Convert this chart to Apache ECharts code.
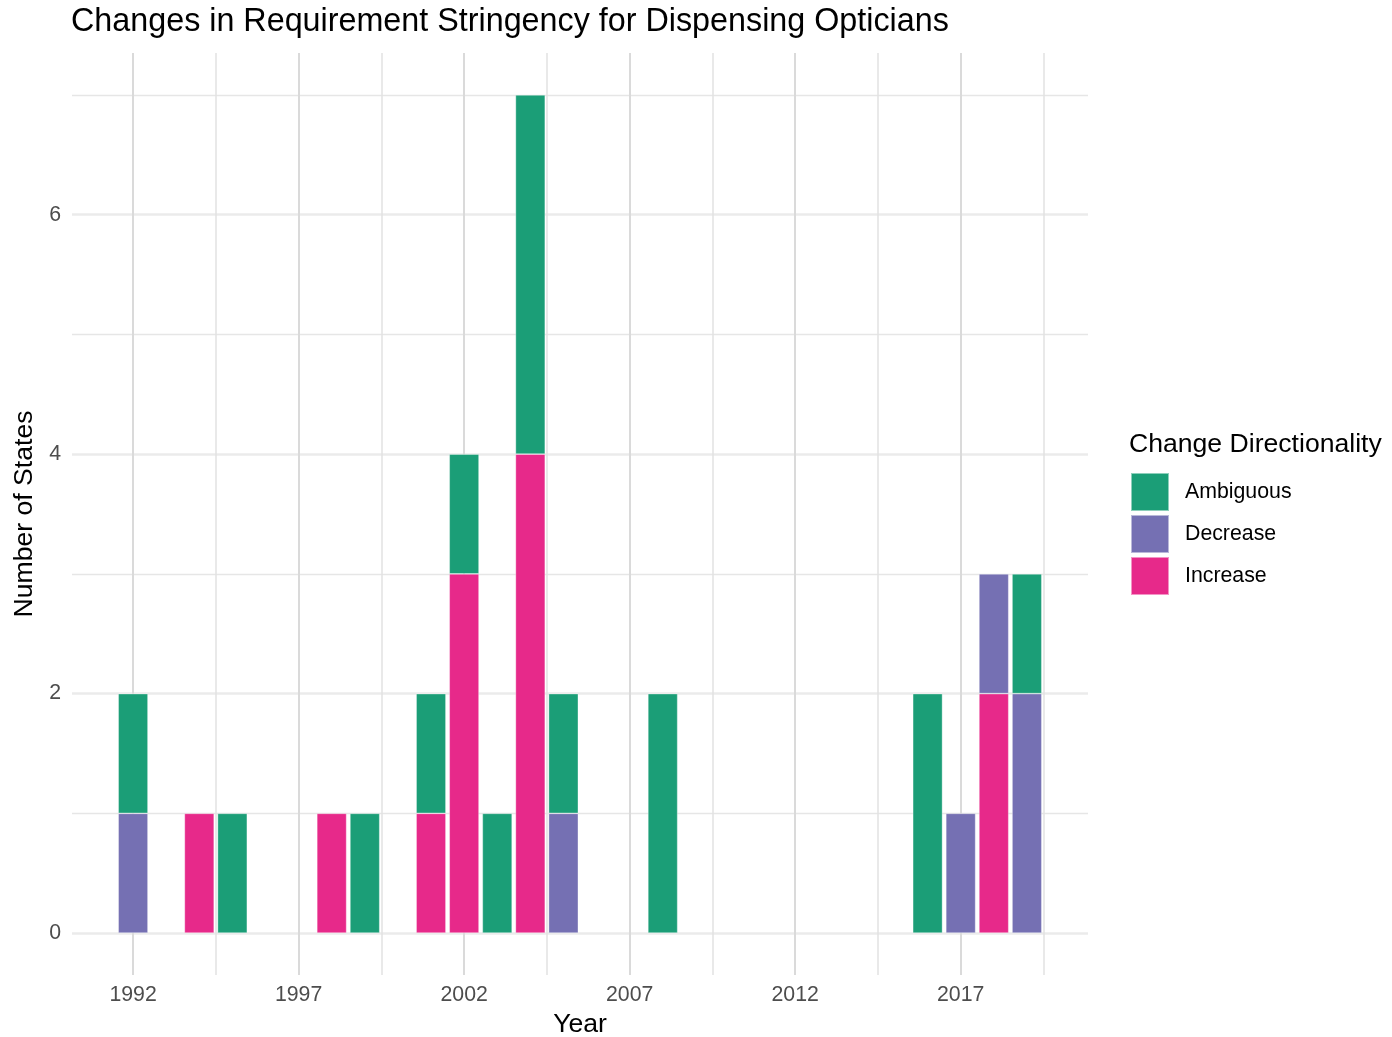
<!DOCTYPE html>
<html><head><meta charset="utf-8">
<script src="https://cdn.jsdelivr.net/npm/echarts@6/dist/echarts.min.js"></script>
<style>html,body{margin:0;padding:0;background:#fff}#c{width:1392px;height:1037px}</style>
</head><body><div id="c"></div>
<script>
const years     = [1992, 1994, 1995, 1998, 1999, 2001, 2002, 2003, 2004, 2005, 2008, 2016, 2017, 2018, 2019];
const increase  = [0,    1,    0,    1,    0,    1,    3,    0,    4,    0,    0,    0,    0,    2,    0];
const decrease  = [1,    0,    0,    0,    0,    0,    0,    0,    0,    1,    0,    0,    1,    1,    2];
const ambiguous = [1,    0,    1,    0,    1,    1,    1,    1,    3,    1,    2,    2,    0,    0,    1];
const xMajorTicks = [1992, 1997, 2002, 2007, 2012, 2017];
const xMinorTicks = [1994.5, 1999.5, 2004.5, 2009.5, 2014.5, 2019.5];
const yMajorTicks = [0, 2, 4, 6];
const yMinorTicks = [1, 3, 5, 7];

const FONT = 'Liberation Sans';
const X_MIN = 1990.155, X_MAX = 2020.845, Y_MIN = -0.35, Y_MAX = 7.35;
const GRID = {left: 72, right: 304, top: 53, bottom: 62, outerBoundsMode: 'none', containLabel: false};
const plotW = 1392 - GRID.left - GRID.right;
const barW = 0.9 * plotW / (X_MAX - X_MIN);

function rows(vals) {
  return years.map((y, i) => [vals[i] === 0 ? '-' : vals[i], y]);
}
function barSeries(name, vals, color) {
  return {
    name, type: 'bar', stack: 'total', data: rows(vals),
    encode: {x: 1, y: 0}, xAxisIndex: 0, yAxisIndex: 0,
    barWidth: barW,
    itemStyle: {color, borderColor: 'rgba(255,255,255,0.5)', borderWidth: 0.7},
    emphasis: {disabled: true}
  };
}

const chart = echarts.init(document.getElementById('c'), null, {renderer: 'canvas'});
chart.setOption({
  animation: false,
  backgroundColor: '#ffffff',
  textStyle: {fontFamily: FONT},
  title: [
    {text: 'Changes in Requirement Stringency for Dispensing Opticians', left: 71, top: 6, padding: 0,
     textStyle: {fontFamily: FONT, fontSize: 32.3, fontWeight: 'normal', color: '#000'}},
    {text: 'Change Directionality', left: 1129, top: 431, padding: 0,
     textStyle: {fontFamily: FONT, fontSize: 26.6, fontWeight: 'normal', color: '#000'}}
  ],
  legend: {
    data: ['Ambiguous', 'Decrease', 'Increase'],
    orient: 'vertical', left: 1130, top: 472, padding: 0,
    itemWidth: 38, itemHeight: 38, itemGap: 2, icon: 'rect',
    selectedMode: false,
    textStyle: {fontFamily: FONT, fontSize: 21.3, color: '#000', padding: [0, 0, 0, 11]}
  },
  grid: GRID,
  xAxis: [
    {type: 'value', min: X_MIN, max: X_MAX,
     name: 'Year', nameLocation: 'middle', nameGap: 35,
     nameTextStyle: {fontFamily: FONT, fontSize: 26.6, color: '#000'},
     axisLine: {show: false}, axisTick: {show: false, customValues: xMajorTicks},
     axisLabel: {customValues: xMajorTicks, margin: 10, fontFamily: FONT, fontSize: 21.3, color: '#4d4d4d',
                 formatter: v => String(v)},
     splitLine: {show: true, lineStyle: {color: '#dadada', width: 2}}},
    {type: 'value', min: X_MIN, max: X_MAX, position: 'bottom',
     axisLine: {show: false}, axisTick: {show: false, customValues: xMinorTicks},
     axisLabel: {show: false, customValues: xMinorTicks},
     splitLine: {show: true, lineStyle: {color: '#e2e2e2', width: 1.5}}}
  ],
  yAxis: [
    {type: 'value', min: Y_MIN, max: Y_MAX,
     name: 'Number of States', nameLocation: 'middle', nameGap: 34,
     nameTextStyle: {fontFamily: FONT, fontSize: 26.6, color: '#000'},
     axisLine: {show: false}, axisTick: {show: false, customValues: yMajorTicks},
     axisLabel: {customValues: yMajorTicks, margin: 11, fontFamily: FONT, fontSize: 21.3, color: '#4d4d4d',
                 formatter: v => String(v)},
     splitLine: {show: true, lineStyle: {color: '#ebebeb', width: 2.7}}},
    {type: 'value', min: Y_MIN, max: Y_MAX, position: 'left',
     axisLine: {show: false}, axisTick: {show: false, customValues: yMinorTicks},
     axisLabel: {show: false, customValues: yMinorTicks},
     splitLine: {show: true, lineStyle: {color: '#e6e6e6', width: 1.4}}}
  ],
  series: [
    barSeries('Increase', increase, '#E7298A'),
    barSeries('Decrease', decrease, '#7570B3'),
    barSeries('Ambiguous', ambiguous, '#1B9E77')
  ]
});
</script></body></html>
